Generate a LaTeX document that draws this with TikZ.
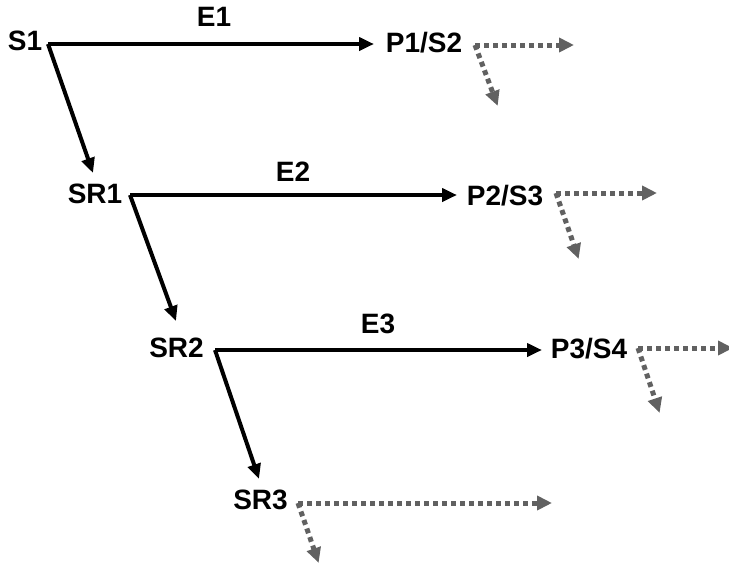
\documentclass[tikz,border=0pt]{standalone}
\usepackage{fontspec}
\setmainfont{Liberation Sans}
\usetikzlibrary{arrows.meta}
\begin{document}
\begin{tikzpicture}[x=1pt,y=-1pt,
  lbl/.style={font=\fontsize{28}{31}\selectfont\bfseries, inner sep=0pt, anchor=center},
  solidarr/.style={line width=4pt, -{Triangle[length=15pt,width=13pt]}},
  dotarr/.style={line width=5pt, draw=black!62, dash pattern=on 5pt off 4pt, -{Triangle[length=15pt,width=14pt]}, shorten >=-2pt}]
\useasboundingbox (0,0) rectangle (729,566);
% labels
\node[lbl] (s1) at (25,41) {S1};
\node[lbl] (p1) at (424,43) {P1/S2};
\node[lbl] (e1) at (214,17) {E1};
\node[lbl] (sr1) at (95,193.5) {SR1};
\node[lbl] (p2) at (505,196) {P2/S3};
\node[lbl] (e2) at (293,172) {E2};
\node[lbl] (sr2) at (176.5,348) {SR2};
\node[lbl] (p3) at (589,349) {P3/S4};
\node[lbl] (e3) at (378,324) {E3};
\node[lbl] (sr3) at (260.5,500) {SR3};
% connector coordinates
\coordinate (a1) at (48,44);
\coordinate (a1e) at (374,44);
\coordinate (d1e) at (93,173);
\coordinate (a2) at (130,195);
\coordinate (a2e) at (457,195);
\coordinate (d2e) at (176,321);
\coordinate (a3) at (215,350);
\coordinate (a3e) at (542,350);
\coordinate (d3e) at (259,479);
% dotted continuations
\coordinate (p1o) at (475,45);
\coordinate (p1h) at (572,45);
\coordinate (p1d) at (497,104);
\coordinate (p2o) at (556,193);
\coordinate (p2h) at (655,193);
\coordinate (p2d) at (578,257);
\coordinate (p3o) at (638,348);
\coordinate (p3h) at (731,348);
\coordinate (p3d) at (659,411);
\coordinate (sr3o) at (298,503);
\coordinate (sr3h) at (550,503);
\coordinate (sr3d) at (318,561);
% solid arrows
\draw[solidarr] (a1) -- (a1e);
\draw[solidarr] (a1) -- (d1e);
\draw[solidarr] (a2) -- (a2e);
\draw[solidarr] (a2) -- (d2e);
\draw[solidarr] (a3) -- (a3e);
\draw[solidarr] (a3) -- (d3e);
% dotted arrows
\draw[dotarr] (p1o) -- (p1h);
\draw[dotarr] (p1o) -- (p1d);
\draw[dotarr] (p2o) -- (p2h);
\draw[dotarr] (p2o) -- (p2d);
\draw[dotarr] (p3o) -- (p3h);
\draw[dotarr] (p3o) -- (p3d);
\draw[dotarr] (sr3o) -- (sr3h);
\draw[dotarr] (sr3o) -- (sr3d);
\end{tikzpicture}
\end{document}
